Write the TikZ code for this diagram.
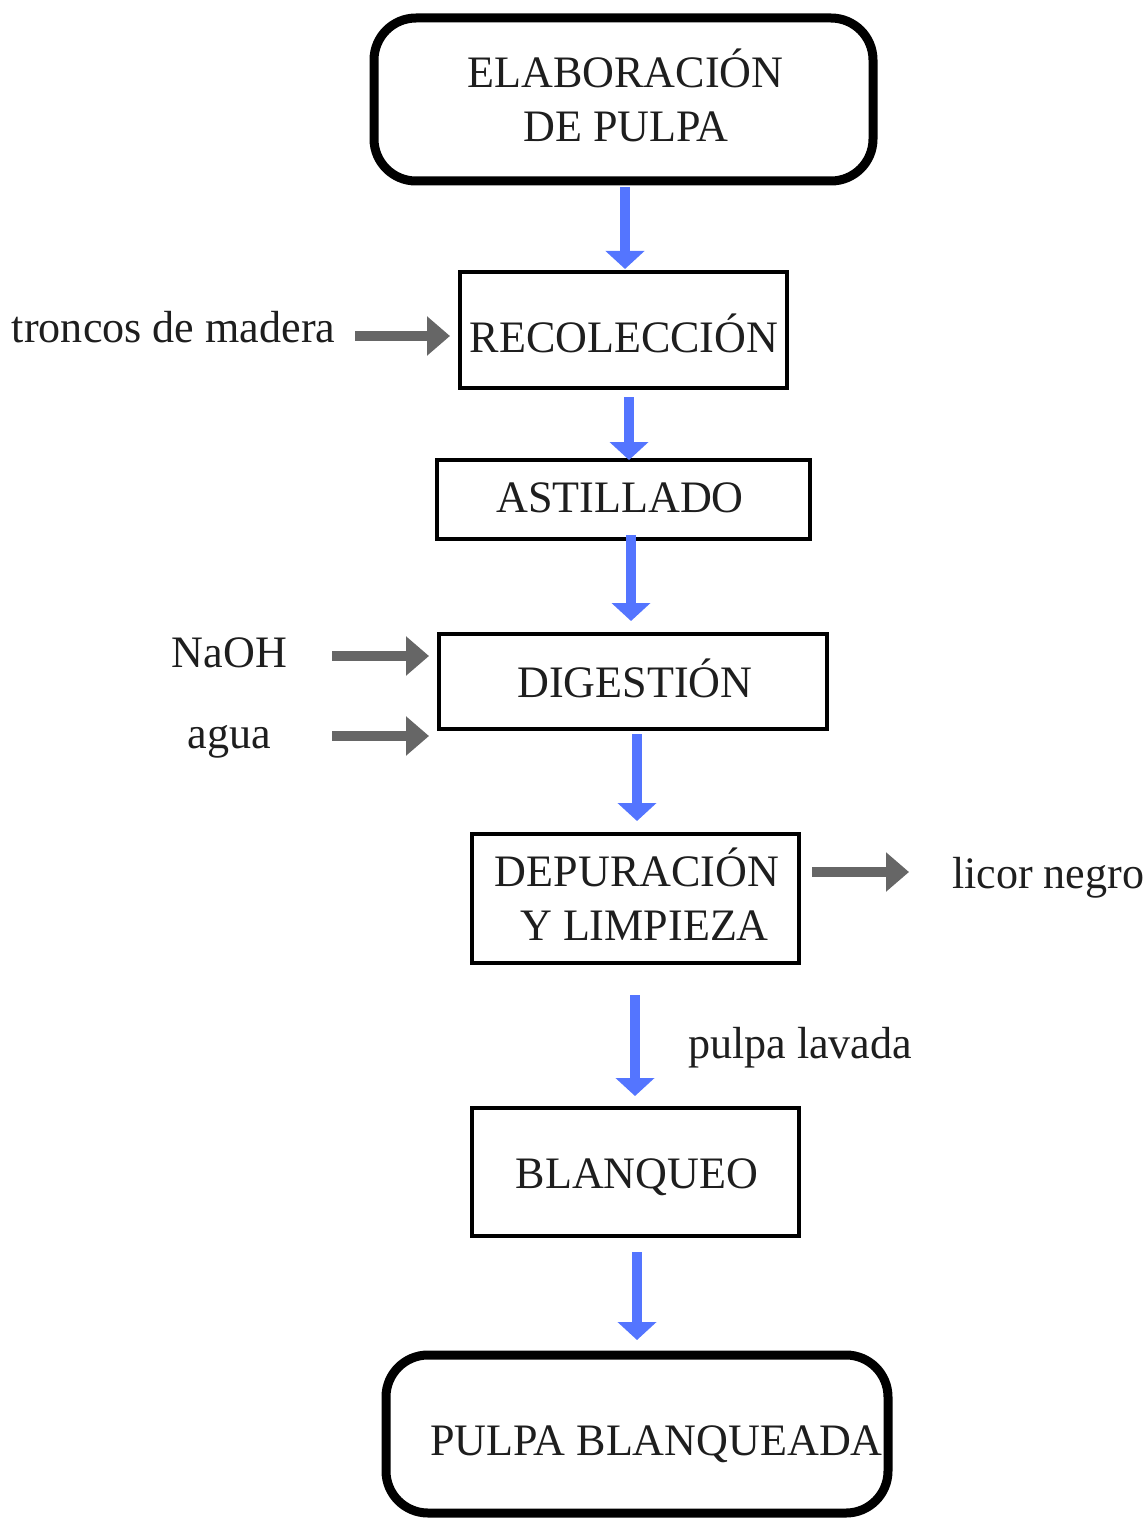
\documentclass[tikz,border=0pt]{standalone}
\usepackage{fontspec}
\setmainfont{Liberation Serif}[FakeStretch=0.98]
\usetikzlibrary{arrows.meta,calc}
\definecolor{flowblue}{RGB}{84,117,255}
\definecolor{feedgray}{RGB}{102,102,102}
\definecolor{ink}{RGB}{30,30,30}

\begin{document}
\begin{tikzpicture}[x=0.75pt,y=-0.75pt,
  every node/.style={inner sep=0pt, outer sep=0pt},
  stage/.style={draw=black, line width=3pt, rectangle},
  terminal/.style={draw=black, line width=6.75pt, rounded corners=31.5pt, rectangle},
  txt/.style={text=ink, font=\fontsize{33.75pt}{40.5pt}\selectfont},
  flow/.style={draw=flowblue, color=flowblue, line width=7.5pt,
    -{Triangle[width=28.5pt,length=13.5pt]}},
  feed/.style={draw=feedgray, color=feedgray, line width=7.5pt,
    -{Triangle[width=28.5pt,length=17.25pt]}},
]
\useasboundingbox (0,0) rectangle (1146,1519);

% process boxes
\node[terminal, minimum width=374.25pt, minimum height=122.25pt] (b1) at (623.5,99.5) {};
\node[stage, minimum width=245.25pt, minimum height=87pt]        (b2) at (623.5,330) {};
\node[stage, minimum width=279.75pt, minimum height=59.25pt]     (b3) at (623.5,499.5) {};
\node[stage, minimum width=291pt, minimum height=71.25pt]        (b4) at (633,681.5) {};
\node[stage, minimum width=245.25pt, minimum height=96.75pt]     (b5) at (635.5,898.5) {};
\node[stage, minimum width=245.25pt, minimum height=96pt]        (b6) at (635.5,1172) {};
\node[terminal, minimum width=376.5pt, minimum height=118.5pt]   (b7) at (637,1434) {};

% box captions
\node[txt, anchor=base] (t1a) at (625.5,88) {ELABORACIÓN};
\node[txt, anchor=base] (t1b) at (626,142) {DE PULPA};
\node[txt, anchor=base] (t2) at (624,352) {RECOLECCIÓN};
\node[txt, anchor=base] (t3) at (620,512) {ASTILLADO};
\node[txt, anchor=base] (t4) at (635,697) {DIGESTIÓN};
\node[txt, anchor=base] (t5a) at (637,886) {DEPURACIÓN};
\node[txt, anchor=base] (t5b) at (644.5,940) {Y LIMPIEZA};
\node[txt, anchor=base] (t6) at (637,1188) {BLANQUEO};
\node[txt, anchor=base west] (t7) at (430,1455) {PULPA BLANQUEADA};

% inputs and outputs
\node[txt, anchor=base west] (tr) at (12,342) {troncos de madera};
\node[txt, anchor=base] (tn) at (229.5,667) {NaOH};
\node[txt, anchor=base] (ta) at (229.5,748) {agua};
\node[txt, anchor=base west] (tl) at (952,888) {licor negro};
\node[txt, anchor=base west] (tp) at (688,1058) {pulpa lavada};

% main flow
\draw[flow] ($(b1.south)+(1.5,6)$) -- ($(b2.north)+(1.5,-3)$);
\draw[flow] ($(b2.south)+(5.5,9)$) -- ($(b3.north)+(5.5,0)$);
\draw[flow] ($(b3.south)+(7.5,-4)$) -- ($(b4.north)+(-2,-13)$);
\draw[flow] ($(b4.south)+(4,5)$) -- ($(b5.north)+(1.5,-13)$);
\draw[flow] ($(b5.south)+(-0.5,32)$) -- ($(b6.north)+(-0.5,-12)$);
\draw[flow] ($(b6.south)+(1.5,16)$) -- ($(b7.north)+(0,-15)$);

% feeds and discharge
\draw[feed] ($(tr.base east)+(20,-6)$) -- ($(b2.west)+(-10,6)$);
\draw[feed] ($(tn.base east)+(45,-11)$) -- ($(b4.west)+(-10,-25.5)$);
\draw[feed] ($(ta.base east)+(61,-12)$) -- ($(b4.west)+(-10,54.5)$);
\draw[feed] ($(b5.east)+(13,-26.5)$) -- ($(tl.base west)+(-43,-16)$);
\end{tikzpicture}
\end{document}
